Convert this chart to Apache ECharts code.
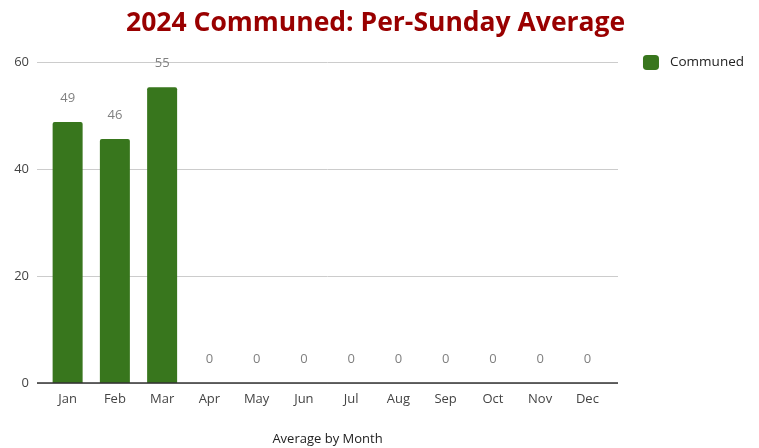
<!DOCTYPE html>
<html><head><meta charset="utf-8">
<script src="https://cdn.jsdelivr.net/npm/echarts@6/dist/echarts.min.js"></script>
<style>html,body{margin:0;padding:0;background:#fff}#c{width:759px;height:448px}</style>
</head><body><div id="c"></div>
<script>
var months = ['Jan','Feb','Mar','Apr','May','Jun','Jul','Aug','Sep','Oct','Nov','Dec'];
var communed = [48.8, 45.6, 55.3, 0, 0, 0, 0, 0, 0, 0, 0, 0];
var seriesName = 'Communed';
var titleText = '2024 Communed: Per-Sunday Average';
var xAxisTitle = 'Average by Month';
var yTicks = [0, 20, 40, 60];

var font = '"Open Sans", sans-serif';
var chart = echarts.init(document.getElementById('c'), null, {renderer:'canvas'});
chart.setOption({
  animation:false,
  title:{text:titleText,left:121,top:5,textStyle:{fontFamily:font,fontWeight:'bold',fontSize:26.5,color:'#990000'}},
  legend:{data:[seriesName],right:10,top:50,orient:'vertical',itemWidth:16,itemHeight:15,itemGap:8,
    textStyle:{fontFamily:font,fontSize:13.5,color:'#222',padding:[0,0,0,6]},icon:'roundRect'},
  grid:[{left:37,right:141,top:62,bottom:65,outerBoundsMode:'none'},{left:44,right:148,top:62,bottom:65,outerBoundsMode:'none'}],
  xAxis:[
    {type:'category',gridIndex:0,data:months,show:false},
    {type:'category',gridIndex:1,data:months,axisTick:{show:false},
     axisLine:{show:false},
     axisLabel:{fontFamily:font,fontSize:13,color:'#444',margin:10},
     name:xAxisTitle,nameLocation:'middle',nameGap:50,
     nameTextStyle:{fontFamily:font,fontSize:13,color:'#222'}}
  ],
  yAxis:[
    {type:'value',gridIndex:0,min:yTicks[0],max:yTicks[yTicks.length-1],interval:20,
     axisLine:{show:false},axisTick:{show:false},
     axisLabel:{fontFamily:font,fontSize:13,color:'#444',margin:8},
     splitLine:{lineStyle:{color:'#cccccc',width:1}}},
    {type:'value',gridIndex:1,min:yTicks[0],max:yTicks[yTicks.length-1],interval:20,show:false,splitLine:{show:false}}
  ],
  series:[
    {type:'line',xAxisIndex:0,yAxisIndex:0,data:[],
     markLine:{silent:true,symbol:'none',label:{show:false},lineStyle:{color:'#333',width:1.5,type:'solid'},data:[{yAxis:0}]}},
    {name:seriesName,type:'bar',xAxisIndex:1,yAxisIndex:1,data:communed,barWidth:30,
     itemStyle:{color:'#38761d',borderRadius:[2,2,0,0]},
     label:{show:true,position:'top',distance:17,fontFamily:font,fontSize:13,color:'#808080',
       formatter:function(p){return Math.round(p.value);}}}
  ]
});
</script></body></html>
